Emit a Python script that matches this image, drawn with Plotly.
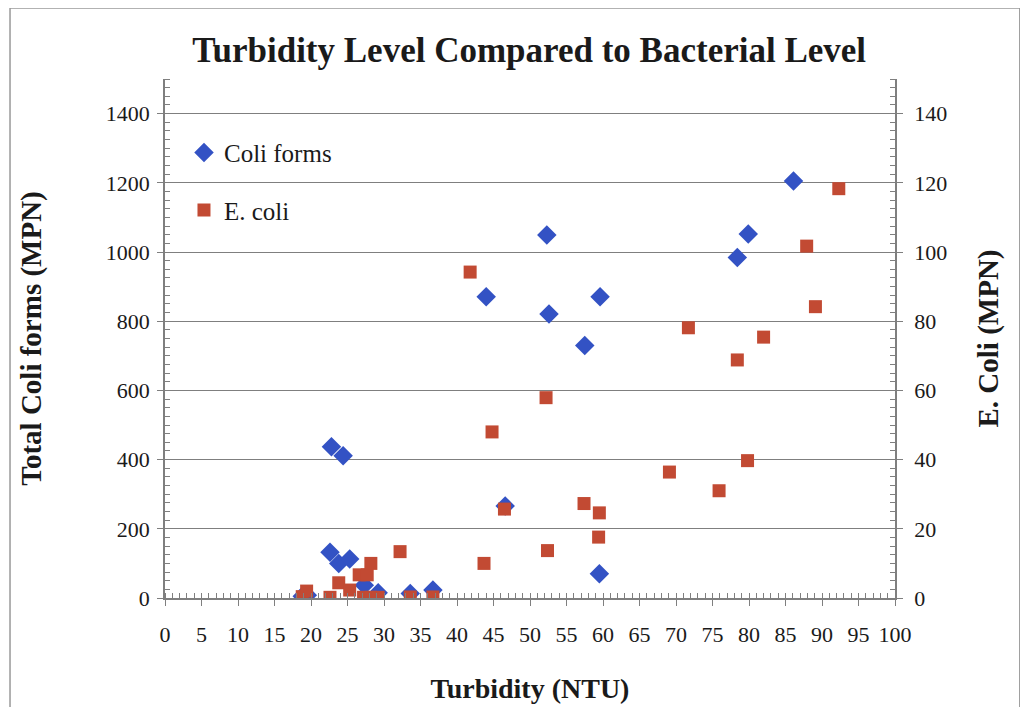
import plotly.graph_objects as go

# Coli forms (left axis)
coli_x = [86.1, 79.9, 78.4, 52.3, 44.0, 59.6, 52.6, 57.5, 22.8, 24.4, 46.6,
          22.6, 23.8, 25.3, 59.5, 27.3, 29.2, 33.6, 36.7, 18.8, 19.5]
coli_y = [1205, 1052, 984, 1049, 871, 871, 821, 730, 437, 411, 266,
          132, 100, 113, 70, 37, 15, 13, 23, 5, 8]

# E. coli (right axis)
ecoli_x = [92.3, 87.9, 89.1, 71.7, 82.0, 78.4, 69.1, 75.9, 79.8, 41.8, 52.2,
           44.8, 46.5, 57.4, 59.5, 59.4, 52.4, 43.7, 32.2, 33.6, 36.7, 18.8,
           19.4, 22.6, 23.8, 25.3, 26.6, 27.7, 28.2, 27.2, 28.2, 29.2]
ecoli_y = [118.3, 101.7, 84.2, 78.1, 75.4, 68.8, 36.4, 31.0, 39.7, 94.2, 57.9,
           48.0, 25.7, 27.3, 24.6, 17.6, 13.7, 10.0, 13.4, 0.3, 0.3, 0.4,
           2.0, 0.2, 4.4, 2.3, 6.7, 6.7, 10.0, 0.2, 0.2, 0.2]

font = "Liberation Serif"
grey = "#7f7f7f"

fig = go.Figure()
fig.add_trace(go.Scatter(x=coli_x, y=coli_y, mode="markers", name="Coli forms",
                         legendgroup="a",
                         marker=dict(symbol="diamond", size=15, color="#3352c4")))
fig.add_trace(go.Scatter(x=ecoli_x, y=ecoli_y, mode="markers", name="E. coli",
                         legendgroup="b", yaxis="y2",
                         marker=dict(symbol="square", size=13, color="#c24a33")))

fig.update_layout(
    width=1020, height=699,
    margin=dict(l=157, r=133, t=71, b=109),
    paper_bgcolor="white", plot_bgcolor="white",
    font=dict(family=font, size=22, color="#1a1a1a"),
    title=dict(text="<b>Turbidity Level Compared to Bacterial Level</b>",
               x=0.511, xanchor="center", y=0.94, yanchor="middle",
               font=dict(size=35, color="#1a1a1a")),
    xaxis=dict(range=[0, 100], dtick=5, showgrid=False, zeroline=False,
               showline=True, linecolor=grey, linewidth=1.5, automargin=False,
               ticks="outside", ticklen=6, tickcolor=grey, ticklabelstandoff=10,
               minor=dict(dtick=1, ticks="inside", ticklen=5, tickcolor=grey),
               title=dict(text="<b>Turbidity (NTU)</b>", font=dict(size=28), standoff=32)),
    yaxis=dict(range=[0, 1500], tickvals=[0, 200, 400, 600, 800, 1000, 1200, 1400],
               showgrid=True, gridcolor=grey, gridwidth=1.3, zeroline=False,
               showline=True, linecolor=grey, linewidth=1.5, automargin=False,
               ticks="outside", ticklen=6, tickcolor=grey, ticklabelstandoff=3,
               minor=dict(dtick=25, ticks="inside", ticklen=5, tickcolor=grey, showgrid=False),
               title=dict(text="<b>Total Coli forms (MPN)</b>", font=dict(size=29), standoff=56)),
    yaxis2=dict(range=[0, 150], tickvals=[0, 20, 40, 60, 80, 100, 120, 140],
                overlaying="y", side="right", showgrid=False, zeroline=False,
                showline=True, linecolor=grey, linewidth=1.5, automargin=False,
                ticks="outside", ticklen=6, tickcolor=grey, ticklabelstandoff=7,
                minor=dict(dtick=2.5, ticks="inside", ticklen=5, tickcolor=grey, showgrid=False),
                title=dict(text="<b>E. Coli (MPN)</b>", font=dict(size=29), standoff=32)),
    legend=dict(x=0.026, y=0.902, xanchor="left", yanchor="top",
                bgcolor="rgba(0,0,0,0)", font=dict(size=25),
                traceorder="grouped", tracegroupgap=22),
    shapes=[dict(type="rect", xref="paper", yref="paper",
                 x0=-0.2123, x1=1.171, y0=-0.4, y1=1.137,
                 line=dict(color="#999", width=1.5))],
)

fig.write_html("out.html")
